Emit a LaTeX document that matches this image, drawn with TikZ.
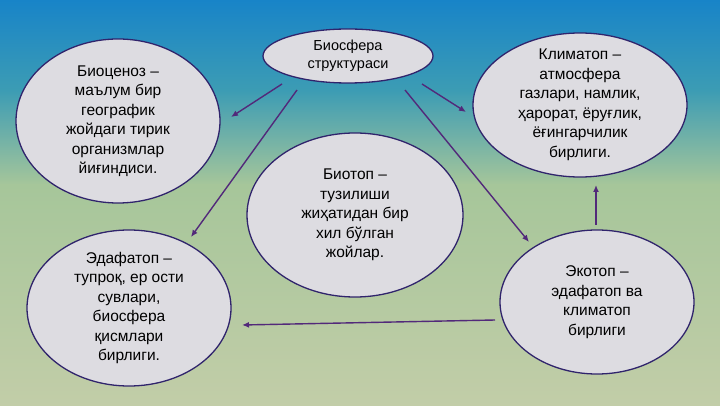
\documentclass[tikz,border=0pt]{standalone}
\usepackage{fontspec}
\setmainfont{Liberation Sans}
\usetikzlibrary{shapes.geometric,arrows.meta}
\definecolor{bgtop}{HTML}{1884C8}
\definecolor{bgmid}{HTML}{3C9CB4}
\definecolor{bggreen}{HTML}{A6C69A}
\definecolor{bgbot}{HTML}{C2CDA8}
\definecolor{ellfill}{HTML}{DDDCE1}
\definecolor{elldraw}{HTML}{30246C}
\definecolor{arrcol}{HTML}{52297A}
\tikzset{
  ell/.style={ellipse, draw=elldraw, line width=1.3pt, fill=ellfill, inner sep=0pt},
  txt/.style={align=center, font=\fontsize{15.5}{19.5}\selectfont, text=black, inner sep=0pt},
  stxt/.style={align=center, font=\fontsize{14.5}{17.5}\selectfont, text=black, inner sep=0pt},
  arr/.style={draw=arrcol, line width=1.4pt, -{Latex[length=7pt,width=6pt]}}
}
\begin{document}
\begin{tikzpicture}[x=1pt,y=-1pt]
\useasboundingbox (0,0) rectangle (720,406);
\shade[top color=bgtop, bottom color=bgmid] (0,0) rectangle (720,90);
\shade[top color=bgmid, bottom color=bggreen] (0,90) rectangle (720,185);
\shade[top color=bggreen, bottom color=bgbot] (0,185) rectangle (720,406);

\node[ell, minimum width=170pt, minimum height=54pt] (bios) at (348,56) {};
\node[stxt] (biostxt) at (bios) {Биосфера\\структураси};

\node[ell, minimum width=204pt, minimum height=164pt] (biots) at (118,121) {};
\node[txt] (biotstxt) at (biots) {Биоценоз –\\маълум бир\\географик\\жойдаги тирик\\организмлар\\йиғиндиси.};

\node[ell, minimum width=214pt, minimum height=144pt] (klim) at (580,105) {};
\node[txt] (klimtxt) at (klim) {Климатоп –\\атмосфера\\газлари, намлик,\\ҳарорат, ёруғлик,\\ёғингарчилик\\бирлиги.};

\node[ell, minimum width=216pt, minimum height=164pt] (biotop) at (355,215) {};
\node[txt] (biotoptxt) at (biotop) {Биотоп –\\тузилиши\\жиҳатидан бир\\хил бўлган\\жойлар.};

\node[ell, minimum width=204pt, minimum height=156pt] (edaf) at (129,308) {};
\node[txt] (edaftxt) at (edaf) {Эдафатоп –\\тупроқ, ер ости\\сувлари,\\биосфера\\қисмлари\\бирлиги.};

\node[ell, minimum width=194pt, minimum height=144pt] (eko) at (597,302) {};
\node[txt] (ekotxt) at (eko) {Экотоп –\\эдафатоп ва\\климатоп\\бирлиги};

\coordinate (s1) at (282,84);  \coordinate (e1) at (231,117);
\coordinate (s2) at (297,90);  \coordinate (e2) at (191,237);
\coordinate (s3) at (422,84);  \coordinate (e3) at (466,112);
\coordinate (s4) at (405,90);  \coordinate (e4) at (529,242);
\coordinate (s5) at (596,225); \coordinate (e5) at (596,185);
\coordinate (s6) at (495,320); \coordinate (e6) at (242,325);

\draw[arr] (s1) -- (e1);
\draw[arr] (s2) -- (e2);
\draw[arr] (s3) -- (e3);
\draw[arr] (s4) -- (e4);
\draw[arr] (s5) -- (e5);
\draw[arr] (s6) -- (e6);
\end{tikzpicture}
\end{document}
